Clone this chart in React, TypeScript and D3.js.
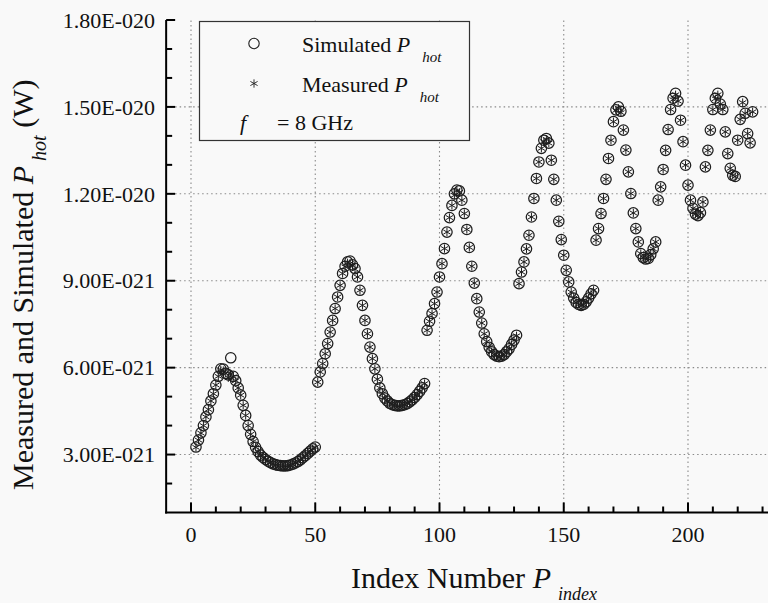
import React from 'react';
import * as d3 from 'd3';

// Index numbers where each sweep segment starts (segments are contiguous)
const segmentStarts = [2, 51, 95, 132, 163, 188];

// Simulated P_hot, in units of 1E-21 W
const simSeg1 = [3.26, 3.5, 3.75, 4.0, 4.3, 4.55, 4.85, 5.1, 5.4, 5.7, 5.96, 5.95, 5.8, 5.75, 6.34, 5.7, 5.55, 5.3, 5.05, 4.7, 4.35, 4.0, 3.7, 3.45, 3.25, 3.1, 2.98, 2.9, 2.83, 2.77, 2.72, 2.68, 2.65, 2.63, 2.62, 2.61, 2.61, 2.62, 2.64, 2.67, 2.71, 2.76, 2.82, 2.89, 2.96, 3.04, 3.12, 3.2, 3.26];
const simSeg2 = [5.5, 5.85, 6.14, 6.48, 6.83, 7.23, 7.63, 8.04, 8.44, 8.84, 9.25, 9.5, 9.65, 9.68, 9.55, 9.42, 9.13, 8.67, 8.15, 7.63, 7.17, 6.71, 6.31, 5.96, 5.6, 5.3, 5.1, 4.95, 4.85, 4.77, 4.72, 4.7, 4.68, 4.68, 4.7, 4.72, 4.76, 4.82, 4.89, 4.97, 5.07, 5.18, 5.3, 5.45];
const simSeg3 = [7.29, 7.6, 7.87, 8.21, 8.61, 9.13, 9.59, 10.11, 10.68, 11.18, 11.6, 12.0, 12.13, 12.1, 11.78, 11.32, 10.77, 10.15, 9.5, 8.92, 8.38, 7.92, 7.54, 7.17, 6.9, 6.7, 6.55, 6.45, 6.4, 6.38, 6.4, 6.45, 6.55, 6.65, 6.8, 6.95, 7.12];
const simSeg4 = [8.9, 9.3, 9.65, 10.1, 10.57, 11.2, 11.84, 12.53, 13.1, 13.57, 13.85, 13.91, 13.75, 13.16, 12.5, 11.78, 11.05, 10.42, 9.88, 9.36, 8.96, 8.61, 8.4, 8.25, 8.18, 8.15, 8.18, 8.27, 8.4, 8.55, 8.67];
const simSeg5 = [10.4, 10.8, 11.32, 11.84, 12.5, 13.22, 13.85, 14.49, 14.9, 15.0, 14.85, 14.2, 13.51, 12.76, 12.01, 11.34, 10.8, 10.34, 9.94, 9.8, 9.75, 9.77, 9.9, 10.1, 10.34];
const simSeg6 = [11.78, 12.24, 12.84, 13.5, 14.22, 14.91, 15.3, 15.47, 15.2, 14.54, 13.8, 12.99, 12.3, 11.78, 11.5, 11.3, 11.25, 11.35, 11.72, 12.93, 13.5, 14.2, 14.91, 15.3, 15.47, 15.1, 14.91, 14.14, 13.39, 12.88, 12.64, 12.6, 13.85, 14.57, 15.18, 14.78, 14.08, 13.76, 14.83];

// Measured P_hot, in units of 1E-21 W
const measSeg1 = [3.25, 3.5, 3.74, 4.0, 4.3, 4.56, 4.85, 5.1, 5.4, 5.7, 5.92, 5.9, 5.8, 5.65, 5.78, 5.68, 5.55, 5.3, 5.05, 4.7, 4.35, 4.0, 3.7, 3.45, 3.25, 3.1, 2.98, 2.9, 2.83, 2.77, 2.72, 2.68, 2.65, 2.63, 2.62, 2.61, 2.61, 2.62, 2.64, 2.67, 2.71, 2.76, 2.82, 2.89, 2.96, 3.04, 3.12, 3.2, 3.25];
const measSeg2 = [5.5, 5.85, 6.14, 6.48, 6.83, 7.23, 7.63, 8.04, 8.44, 8.84, 9.25, 9.48, 9.62, 9.6, 9.52, 9.4, 9.13, 8.67, 8.15, 7.63, 7.17, 6.71, 6.31, 5.96, 5.6, 5.3, 5.1, 4.95, 4.85, 4.77, 4.72, 4.7, 4.68, 4.68, 4.7, 4.72, 4.76, 4.82, 4.89, 4.97, 5.07, 5.18, 5.3, 5.45];
const measSeg3 = [7.29, 7.6, 7.87, 8.21, 8.61, 9.13, 9.59, 10.11, 10.68, 11.18, 11.6, 11.95, 12.1, 12.05, 11.78, 11.32, 10.77, 10.15, 9.5, 8.92, 8.38, 7.92, 7.54, 7.17, 6.9, 6.7, 6.55, 6.45, 6.4, 6.38, 6.4, 6.45, 6.55, 6.65, 6.8, 6.95, 7.1];
const measSeg4 = [8.9, 9.3, 9.65, 10.1, 10.57, 11.2, 11.84, 12.53, 13.1, 13.57, 13.8, 13.88, 13.75, 13.16, 12.5, 11.78, 11.05, 10.42, 9.88, 9.36, 8.96, 8.61, 8.4, 8.25, 8.18, 8.15, 8.18, 8.27, 8.4, 8.55, 8.67];
const measSeg5 = [10.4, 10.8, 11.32, 11.84, 12.5, 13.22, 13.85, 14.49, 14.88, 14.95, 14.8, 14.2, 13.51, 12.76, 12.01, 11.34, 10.8, 10.34, 9.94, 9.8, 9.75, 9.77, 9.9, 10.1, 10.34];
const measSeg6 = [11.78, 12.24, 12.84, 13.5, 14.22, 14.91, 15.25, 15.42, 15.2, 14.54, 13.8, 12.99, 12.3, 11.78, 11.5, 11.3, 11.25, 11.35, 11.72, 12.93, 13.5, 14.2, 14.91, 15.28, 15.42, 15.1, 14.91, 14.14, 13.39, 12.88, 12.64, 12.6, 13.85, 14.57, 15.15, 14.78, 14.08, 13.76, 14.83];

const UNIT = 1e-21;
const xMajorTicks = [0, 50, 100, 150, 200];
const xTickLabels = ['0', '50', '100', '150', '200'];
const yMajorTicks = [3, 6, 9, 12, 15, 18];
const yTickLabels = ['3.00E-021', '6.00E-021', '9.00E-021', '1.20E-020', '1.50E-020', '1.80E-020'];

const simSegments = [simSeg1, simSeg2, simSeg3, simSeg4, simSeg5, simSeg6];
const measSegments = [measSeg1, measSeg2, measSeg3, measSeg4, measSeg5, measSeg6];

function flatten(segs: number[][]) {
  const out: { idx: number; v: number }[] = [];
  segs.forEach((seg, s) => {
    seg.forEach((v, i) => out.push({ idx: segmentStarts[s] + i, v: v * UNIT }));
  });
  return out;
}

const FONT = '"Liberation Serif", "Times New Roman", serif';

export default function App() {
  const W = 768;
  const H = 603;
  const x = d3.scaleLinear().domain([0, 200]).range([191, 688]);
  const y = d3.scaleLinear().domain([1 * UNIT, 18 * UNIT]).range([512.5, 20]);
  const left = x(-10);
  const bottom = y(1 * UNIT);
  const top = y(18 * UNIT);

  const simData = flatten(simSegments);
  const measData = flatten(measSegments);

  const circlePath = d3.symbol(d3.symbolCircle, Math.PI * 5.2 * 5.2)() as string;
  const starType = (d3 as any).symbolAsterisk || d3.symbolCross;
  const starPath = d3.symbol(starType, 48)() as string;

  const xMinor = d3.range(0, 240, 10).filter((t) => x(t) <= W && t % 50 !== 0);
  const yMinor = d3.range(2, 18).filter((t) => t % 3 !== 0);

  const markColor = '#1e1e1e';
  const bg = '#f9f9f9';

  return (
    <svg
      width={W}
      height={H}
      style={{ position: 'absolute', left: 0, top: 0, background: bg }}
      fontFamily={FONT}
    >
      <rect x={0} y={0} width={W} height={H} fill={bg} />
      {/* grid */}
      <g stroke="#8a8a8a" strokeWidth={1.1} strokeDasharray="1.5 3">
        {xMajorTicks.map((t) => (
          <line key={'gx' + t} x1={x(t)} x2={x(t)} y1={bottom} y2={top} />
        ))}
        {yMajorTicks.slice(0, -1).map((t) => (
          <line key={'gy' + t} x1={left} x2={W} y1={y(t * UNIT)} y2={y(t * UNIT)} />
        ))}
      </g>

      {/* data */}
      <g fill="none" stroke={markColor} strokeWidth={1.25}>
        {simData.map((d, i) => (
          <path key={'s' + i} d={circlePath} transform={`translate(${x(d.idx)},${y(d.v)})`} />
        ))}
      </g>
      <g fill="none" stroke={markColor} strokeWidth={1}>
        {measData.map((d, i) => (
          <path key={'m' + i} d={starPath} transform={`translate(${x(d.idx)},${y(d.v)})`} />
        ))}
      </g>

      {/* axes */}
      <g stroke="#000" strokeWidth={2}>
        <line x1={left} x2={left} y1={top} y2={bottom + 1} />
        <line x1={left - 1} x2={W} y1={bottom} y2={bottom} />
        {yMajorTicks.map((t) => (
          <line key={'yt' + t} x1={left} x2={left + 9} y1={y(t * UNIT)} y2={y(t * UNIT)} />
        ))}
        {yMinor.map((t) => (
          <line key={'ym' + t} x1={left} x2={left + 6} y1={y(t * UNIT)} y2={y(t * UNIT)} />
        ))}
        {xMajorTicks.map((t) => (
          <line key={'xt' + t} x1={x(t)} x2={x(t)} y1={bottom} y2={bottom - 10} />
        ))}
        {xMinor.map((t) => (
          <line key={'xm' + t} x1={x(t)} x2={x(t)} y1={bottom} y2={bottom - 6} />
        ))}
      </g>

      {/* tick labels */}
      <g fontSize={22} fill="#111">
        {yMajorTicks.map((t, i) => (
          <text key={'yl' + t} x={155} y={y(t * UNIT)} dy="0.35em" textAnchor="end">
            {yTickLabels[i]}
          </text>
        ))}
        {xMajorTicks.map((t, i) => (
          <text key={'xl' + t} x={x(t)} y={bottom + 29} textAnchor="middle">
            {xTickLabels[i]}
          </text>
        ))}
      </g>

      {/* axis titles */}
      <text x={351} y={588} fontSize={30} fill="#111">
        Index Number{' '}
        <tspan fontStyle="italic">P</tspan>
        <tspan fontStyle="italic" fontSize={18} dx={7} dy={12}>index</tspan>
      </text>
      <text transform="translate(33,490) rotate(-90)" fontSize={30} fill="#111">
        Measured and Simulated{' '}
        <tspan fontStyle="italic">P</tspan>
        <tspan fontStyle="italic" fontSize={20} dx={5} dy={13}>hot</tspan>
        <tspan dy={-13}> (W)</tspan>
      </text>

      {/* legend */}
      <rect x={199.5} y={21.5} width={270} height={119} fill={bg} stroke="#333" strokeWidth={1.2} />
      <path d={circlePath} transform="translate(254,43.5)" fill="none" stroke={markColor} strokeWidth={1.1} />
      <path d={starPath} transform="translate(254,83.5)" fill="none" stroke={markColor} strokeWidth={0.9} />
      <g fontSize={22} fill="#111">
        <text x={302} y={51.5}>
          {'Simulated '}
          <tspan fontStyle="italic">P</tspan>
          <tspan dx={12} dy={10} fontStyle="italic" fontSize={15}>hot</tspan>
        </text>
        <text x={302} y={91.5}>
          {'Measured '}
          <tspan fontStyle="italic">P</tspan>
          <tspan dx={12} dy={10} fontStyle="italic" fontSize={15}>hot</tspan>
        </text>
        <text x={240} y={130}>
          <tspan fontStyle="italic">f</tspan>
        </text>
        <text x={277} y={130}>= 8 GHz</text>
      </g>
    </svg>
  );
}
